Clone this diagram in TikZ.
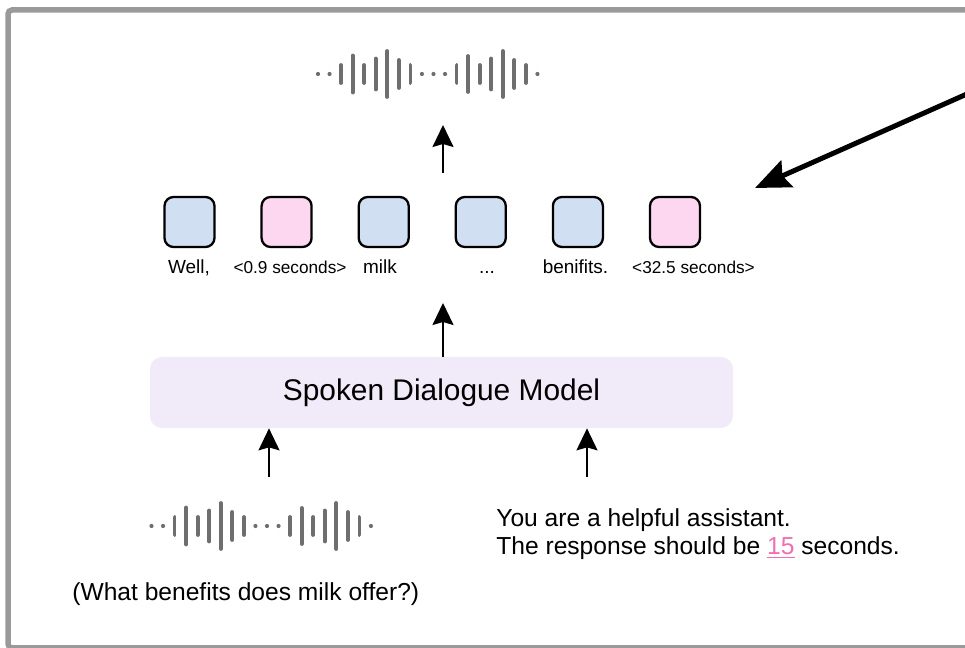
\documentclass[tikz,border=0pt]{standalone}
\usepackage{fontspec}
\setmainfont{Liberation Sans}
\usepackage{xcolor}
\usetikzlibrary{arrows.meta}
\definecolor{tokblue}{HTML}{D0DFF2}
\definecolor{tokpink}{HTML}{FDD7EF}
\definecolor{modelbg}{HTML}{F1EAF9}
\definecolor{wavegray}{HTML}{6E6E6E}
\definecolor{framegray}{HTML}{9A9A9A}
\definecolor{durpink}{HTML}{F06EB4}

\begin{document}
\begin{tikzpicture}[font=\fontsize{14}{17}\selectfont,
  tok/.style={draw,line width=1.3pt,rounded corners=0.18cm,minimum size=1cm,inner sep=0pt,outer sep=0pt},
  word/.style={anchor=base,inner sep=0pt,font=\fontsize{10.8}{13}\selectfont},
  dur/.style={anchor=base,inner sep=0pt,font=\fontsize{9.8}{12}\selectfont},
  txt/.style={anchor=base west,inner sep=0pt},
  up/.style={-{Stealth[length=0.44cm,width=0.42cm,inset=0.06cm]},line width=1.1pt},
  bar/.style={wavegray,line width=0.075cm,line cap=round}]
  \useasboundingbox (0,0) rectangle (19.3,12.96);
  \clip (0,0) rectangle (19.3,12.96);
  \draw[framegray,line width=0.11cm,rounded corners=0.08cm] (0.16,0) rectangle (19.8,12.76);
  \foreach \wx/\wy in {6.36/11.48,3.03/2.44}
    \foreach \i/\h in {0/0,1/0,2/0.36,3/0.74,4/0.36,5/0.62,6/0.92,7/0.56,8/0.36,9/0,10/0,11/0,12/0.36,13/0.72,14/0.36,15/0.62,16/0.92,17/0.56,18/0.36,19/0}
      {\ifdim \h pt=0pt \fill[wavegray] (\wx+0.231*\i,\wy) circle (0.042);
       \else \draw[bar] (\wx+0.231*\i,\wy-\h/2) -- ++(0,\h); \fi}
  \node[tok,fill=tokblue] (t1) at (3.79,8.52) {};
  \node[tok,fill=tokpink] (t2) at (5.732,8.52) {};
  \node[tok,fill=tokblue] (t3) at (7.674,8.52) {};
  \node[tok,fill=tokblue] (t4) at (9.616,8.52) {};
  \node[tok,fill=tokblue] (t5) at (11.558,8.52) {};
  \node[tok,fill=tokpink] (t6) at (13.5,8.52) {};
  \node[word] (w1) at (3.78,7.48) {Well,};
  \node[dur] (w2) at (5.8,7.48) {<0.9 seconds>};
  \node[word] (w3) at (7.6,7.48) {milk};
  \node[word] (w4) at (9.74,7.48) {...};
  \node[word] (w5) at (11.51,7.48) {benifits.};
  \node[dur] (w6) at (13.87,7.48) {<32.5 seconds>};
  \node[fill=modelbg,rounded corners=0.24cm,minimum width=11.66cm,minimum height=1.42cm,
    font=\fontsize{17}{20}\selectfont] (model) at (8.83,5.11) {Spoken Dialogue Model};
  \coordinate (outbot) at (8.86,9.5);
  \coordinate (outtop) at (8.86,10.46);
  \coordinate (midtip) at (8.86,6.9);
  \coordinate (audioin) at (5.38,3.42);
  \coordinate (promptin) at (11.74,3.42);
  \draw[up] (outbot) -- (outtop);
  \draw[up] (model.north -| midtip) -- (midtip);
  \draw[up] (audioin) -- (audioin |- model.south);
  \draw[up] (promptin) -- (promptin |- model.south);
  \node[txt] (prompt1) at (9.92,2.42) {You are a helpful assistant.};
  \node[txt] (prompt2) at (9.92,1.86) {The response should be \textcolor{durpink}{\underline{15}} seconds.};
  \node[txt] (question) at (1.44,0.94) {(What benefits does milk offer?)};
  \coordinate (ptail) at (19.7,11.24);
  \coordinate (phead) at (15.1,9.2);
  \draw[line width=0.1cm,-{Stealth[length=0.7cm,width=0.58cm,inset=0.1cm]}] (ptail) -- (phead);
\end{tikzpicture}
\end{document}
